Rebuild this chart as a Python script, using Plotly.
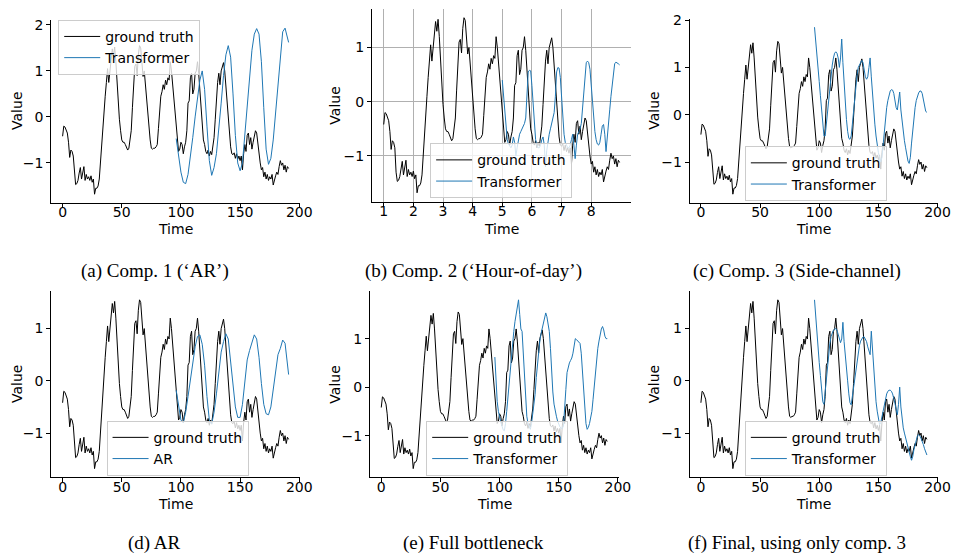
import plotly.graph_objects as go

# ---------------- data ----------------
time_gt = list(range(192))
ground_truth = [
    -0.42, -0.2, -0.22, -0.3, -0.35, -0.55, -0.88, -0.72, -0.75, -0.85,
    -1.3, -1.47, -1.45, -1.38, -1.22, -1.1, -1.35, -1.18, -1.08, -1.38,
    -1.25, -1.35, -1.3, -1.38, -1.28, -1.42, -1.35, -1.68, -1.55, -1.55,
    -1.5, -1.35, -0.95, -0.5, -0.3, 0.1, 0.45, 0.75, 1.05, 0.75,
    1.0, 1.3, 1.48, 1.3, 1.52, 1.2, 0.75, 0.3, -0.05, -0.3,
    -0.5, -0.55, -0.55, -0.6, -0.68, -0.72, -0.68, -0.5, -0.3, 0.2,
    0.65, 1.1, 1.15, 0.9, 1.35, 1.55, 1.5, 1.25, 0.88, 1.0,
    0.7, 0.3, 0.0, -0.25, -0.5, -0.68, -0.7, -0.68, -0.68, -0.65,
    -0.6, -0.25, 0.15, 0.45, 0.55, 0.7, 0.6, 0.8, 0.7, 0.85,
    0.8, 1.2, 1.0, 0.7, 0.4, 0.1, -0.3, -0.55, -0.75, -0.7,
    -0.55, -0.6, -0.8, -0.65, -0.55, -0.3, 0.3, 0.35, 0.85, 0.95,
    0.5, 0.6, 0.95, 1.0, 1.2, 0.95, 0.6, 0.2, -0.3, -0.5,
    -0.6, -0.75, -0.8, -0.72, -0.85, -0.75, -0.82, -0.65, -0.45, -0.05,
    0.45, 0.75, 0.95, 0.7, 1.0, 1.12, 1.18, 1.0, 0.65, 0.3,
    -0.15, -0.45, -0.65, -0.8, -0.82, -0.78, -0.9, -0.8, -0.92, -0.85,
    -0.95, -0.85, -1.15, -0.8, -0.6, -0.75, -0.4, -0.35, -0.6, -0.45,
    -0.7, -0.55, -0.45, -0.3, -0.35, -0.6, -0.75, -1.0, -1.15, -1.1,
    -1.3, -1.2, -1.35, -1.25, -1.38, -1.3, -1.35, -1.25, -1.48, -1.35,
    -1.28, -1.2, -1.25, -1.08, -0.95, -1.05, -1.0, -1.15, -1.05, -1.2,
    -1.08, -1.12,
]

time_a = [96, 98, 100, 102, 104, 106, 108, 110, 112, 114, 116, 118, 120, 122, 124, 126,
          128, 130, 132, 134, 136, 138, 140, 142, 144, 146, 148, 150, 152, 154, 156, 158,
          160, 162, 164, 166, 168, 170, 172, 174, 176, 178, 180, 182, 184, 186, 188, 190, 191]
comp1 = [-0.47, -0.85, -1.2, -1.42, -1.45, -1.25, -0.9, -0.45, 0.0, 0.45, 0.8, 1.0, 0.6,
         -0.2, -0.95, -1.27, -1.1, -0.8, -0.3, 0.3, 0.9, 1.35, 1.55, 1.3, 0.5, -0.4, -1.0,
         -1.17, -1.0, -0.4, 0.3, 0.9, 1.45, 1.8, 1.92, 1.8, 1.2, 0.2, -0.7, -1.03, -0.9,
         -0.5, 0.1, 0.8, 1.4, 1.85, 1.93, 1.75, 1.62]

time_fc = list(range(96, 192))
comp2 = [0.4, 0.1, -0.25, -0.55, -0.7, -0.78, -0.82, -0.85, -0.8, -0.65,
         -0.75, -1.0, -0.85, -0.7, -0.6, -0.55, -0.5, -0.45, -0.4, -0.3,
         0.1, 0.55, 0.58, 0.57, 0.3, -0.1, -0.45, -0.7, -0.8, -0.85,
         -0.85, -0.8, -0.7, -0.65, -0.8, -1.2, -0.9, -0.7, -0.6, -0.5,
         -0.4, -0.3, -0.2, 0.1, 0.55, 0.63, 0.62, 0.45, 0.1, -0.3,
         -0.6, -0.75, -0.8, -0.85, -0.85, -0.8, -0.7, -0.6, -0.8, -1.05,
         -0.8, -0.6, -0.55, -0.5, -0.4, -0.1, 0.3, 0.6, 0.72, 0.75,
         0.72, 0.6, 0.3, 0.0, -0.3, -0.55, -0.7, -0.78, -0.8, -0.75,
         -0.6, -0.45, -0.42, -0.6, -0.92, -0.7, -0.4, -0.15, 0.1, 0.35,
         0.6, 0.7, 0.73, 0.72, 0.7, 0.68]

comp3 = [1.85, 1.6, 1.3, 1.0, 0.7, 0.4, 0.1, -0.2, -0.45, -0.45,
         -0.2, 0.1, 0.45, 0.7, 0.9, 1.05, 1.2, 1.3, 1.33, 1.3,
         1.2, 1.0, 1.2, 1.6, 1.1, 0.6, 0.2, -0.1, -0.35, -0.5,
         -0.52, -0.45, -0.2, 0.1, 0.35, 0.6, 0.85, 1.0, 1.05, 1.1,
         1.15, 1.1, 0.95, 0.8, 0.75, 0.8, 1.0, 1.2, 0.8, 0.4,
         0.1, -0.2, -0.45, -0.65, -0.8, -0.9, -1.0, -0.9, -0.6, -0.3,
         -0.05, 0.15, 0.3, 0.42, 0.5, 0.53, 0.52, 0.45, 0.3, 0.15,
         0.1, 0.3, 0.48, 0.1, -0.15, -0.35, -0.55, -0.7, -0.85, -0.98,
         -1.03, -0.9, -0.6, -0.3, -0.05, 0.15, 0.3, 0.4, 0.46, 0.5,
         0.5, 0.45, 0.3, 0.15, 0.07, 0.05]

time_d = [96, 98, 100, 102, 104, 106, 108, 110, 112, 114, 116, 118, 120, 122, 124, 126,
          128, 130, 132, 134, 136, 138, 140, 142, 144, 146, 148, 150, 152, 154, 156, 158,
          160, 162, 164, 166, 168, 170, 172, 174, 176, 178, 180, 182, 184, 186, 188, 190, 191]
ar = [-0.18, -0.5, -0.75, -0.8, -0.6, -0.3, 0.05, 0.4, 0.65, 0.85, 0.88, 0.7, 0.3,
      -0.3, -0.75, -0.83, -0.6, -0.25, 0.2, 0.55, 0.75, 0.9, 0.8, 0.4, -0.1, -0.5, -0.7,
      -0.7, -0.45, -0.05, 0.4, 0.58, 0.75, 0.88, 0.8, 0.45, -0.05, -0.45, -0.63, -0.65,
      -0.5, -0.15, 0.25, 0.5, 0.62, 0.78, 0.72, 0.3, 0.12]

full = [0.62, 0.1, -0.3, -0.5, -0.65, -0.72, -0.8, -0.88, -0.9, -0.75,
        -0.5, -0.2, 0.1, 0.4, 0.7, 0.95, 1.15, 1.35, 1.5, 1.72,
        1.8, 1.5, 1.2, 1.15, 0.7, 0.2, -0.3, -0.6, -0.75, -0.82,
        -0.87, -0.75, -0.55, -0.35, -0.15, 0.2, 0.5, 0.75, 0.95, 1.1,
        1.2, 1.3, 1.45, 1.53, 1.45, 1.3, 1.15, 0.8, 0.3, -0.1,
        -0.35, -0.5, -0.6, -0.7, -0.78, -0.82, -0.85, -0.85, -0.8, -0.3,
        -0.05, 0.3, 0.43, 0.5, 0.55, 0.6, 0.7, 0.85, 1.0, 0.98,
        0.95, 0.92, 0.9, 0.7, 0.35, -0.1, -0.5, -0.75, -0.87, -0.83,
        -0.75, -0.65, -0.5, -0.25, 0.05, 0.3, 0.55, 0.8, 0.95, 1.1,
        1.2, 1.25, 1.18, 1.05, 1.0, 1.0]

final = [1.55, 1.2, 0.87, 0.6, 0.35, 0.1, -0.15, -0.4, -0.45, -0.2,
         0.05, 0.3, 0.55, 0.72, 0.85, 0.93, 0.97, 0.99, 1.0, 0.97,
         0.9, 0.82, 0.73, 0.8, 1.12, 0.75, 0.45, 0.2, 0.0, -0.25,
         -0.42, -0.46, -0.3, -0.1, 0.05, 0.25, 0.42, 0.58, 0.68, 0.76,
         0.82, 0.84, 0.84, 0.8, 0.75, 0.65, 0.55, 0.5, 0.95, 0.6,
         0.2, -0.15, -0.4, -0.58, -0.72, -0.84, -0.8, -0.68, -0.55, -0.42,
         -0.32, -0.25, -0.2, -0.18, -0.18, -0.2, -0.25, -0.33, -0.43, -0.55,
         -0.65, -0.45, -0.12, -0.5, -0.75, -0.9, -1.0, -1.1, -1.2, -1.3,
         -1.38, -1.45, -1.52, -1.45, -1.32, -1.22, -1.12, -1.05, -1.03, -1.05,
         -1.1, -1.15, -1.22, -1.3, -1.38, -1.42]

captions = ["(a) Comp. 1 (\u2018AR\u2019)", "(b) Comp. 2 (\u2018Hour-of-day\u2019)",
            "(c) Comp. 3 (Side-channel)", "(d) AR", "(e) Full bottleneck",
            "(f) Final, using only comp. 3"]
model_names = ["Transformer", "Transformer", "Transformer", "AR", "Transformer", "Transformer"]
day_ticks = [1, 2, 3, 4, 5, 6, 7, 8]

# ---------------- layout helpers ----------------
W, H = 967, 560
BLACK = "#000000"
BLUE = "#1f77b4"
FONT = "DejaVu Sans"

boxes = [
    (52, 304, 13, 198),
    (377, 640, 2, 197),
    (699, 951, 12, 198),
    (52, 304, 288, 476),
    (375, 627, 288, 476),
    (699, 951, 288, 476),
]
value_x = [17, 340, 663, 17, 340, 663]
time_y = [225, 225, 225, 503, 503, 503]
legend_pos = [(59, 13), (436, 138), (755, 141), (108, 419), (432, 419), (755, 419)]
caption_pos = [(157, 267), (480, 267), (808, 267), (157, 543), (480, 543), (808, 543)]

panels = [
    (time_a, comp1),
    ([1 + t / 24 for t in time_fc], comp2),
    (time_fc, comp3),
    (time_d, ar),
    (time_fc, full),
    (time_fc, final),
]

fig = go.Figure()
layout = dict(
    width=W, height=H, margin=dict(l=0, r=0, t=0, b=0),
    paper_bgcolor="white", plot_bgcolor="white",
    font=dict(family=FONT, size=14, color="black"),
    annotations=[],
)

def ann(text, x, y, size=14, family=FONT, angle=0):
    return dict(text=text, x=x / W, y=1 - y / H, xref="paper", yref="paper",
                showarrow=False, xanchor="center", yanchor="middle", textangle=angle,
                font=dict(family=family, size=size, color="black"))

for i, ((fx, fy), box) in enumerate(zip(panels, boxes)):
    n = i + 1
    xa = "x" if n == 1 else f"x{n}"
    ya = "y" if n == 1 else f"y{n}"
    leg = "legend" if n == 1 else f"legend{n}"
    gx = [1 + t / 24 for t in time_gt] if i == 1 else time_gt
    fig.add_trace(go.Scatter(x=gx, y=ground_truth, mode="lines", name="ground truth",
                             line=dict(color=BLACK, width=1), xaxis=xa, yaxis=ya,
                             legend=leg, showlegend=True))
    fig.add_trace(go.Scatter(x=fx, y=fy, mode="lines", name=model_names[i],
                             line=dict(color=BLUE, width=1), xaxis=xa, yaxis=ya,
                             legend=leg, showlegend=True))

    allx = list(gx) + list(fx)
    ally = ground_truth + fy
    x0, x1 = min(allx), max(allx)
    y0, y1 = min(ally), max(ally)
    mx, my = 0.05 * (x1 - x0), 0.05 * (y1 - y0)

    l, r, t, b = box
    xkey = "xaxis" if n == 1 else f"xaxis{n}"
    ykey = "yaxis" if n == 1 else f"yaxis{n}"
    grid = (i == 1)
    layout[xkey] = dict(
        domain=[l / W, r / W], anchor=ya, range=[x0 - mx, x1 + mx],
        showline=True, linecolor="black", linewidth=1, mirror=False,
        ticks="outside", ticklen=4, tickwidth=1, tickcolor="black",
        showgrid=grid, gridcolor="#b0b0b0", gridwidth=1, zeroline=False,
        tickfont=dict(size=14, family=FONT), ticklabelstandoff=-7,
        tickmode="array",
        tickvals=day_ticks if i == 1 else [0, 50, 100, 150, 200],
    )
    layout[ykey] = dict(
        domain=[1 - b / H, 1 - t / H], anchor=xa, range=[y0 - my, y1 + my],
        showline=True, linecolor="black", linewidth=1, mirror=False,
        ticks="outside", ticklen=4, tickwidth=1, tickcolor="black",
        showgrid=grid, gridcolor="#b0b0b0", gridwidth=1, zeroline=False,
        tickfont=dict(size=14, family=FONT),
        dtick=1, tick0=0,
    )
    lx, ly = legend_pos[i]
    layout[leg] = dict(
        x=lx / W, y=1 - ly / H, xanchor="left", yanchor="top", xref="paper", yref="paper",
        bgcolor="rgba(255,255,255,0.8)", bordercolor="#cccccc", borderwidth=1,
        font=dict(size=14, family=FONT), itemwidth=36, tracegroupgap=0,
    )
    layout["annotations"].append(ann("Value", value_x[i], (t + b) / 2, angle=-90))
    layout["annotations"].append(ann("Time", (l + r) / 2, time_y[i]))
    cx, cy = caption_pos[i]
    layout["annotations"].append(ann(captions[i], cx, cy, size=19, family="Liberation Serif"))

fig.update_layout(**layout)
post = ("document.body.style.margin='0';document.body.style.overflow='hidden';"
        "var gd=document.getElementById('{plot_id}');"
        "gd.style.position='fixed';gd.style.left='0px';gd.style.top='0px';")
fig.write_html("out.html", config={"displayModeBar": False}, post_script=post)
